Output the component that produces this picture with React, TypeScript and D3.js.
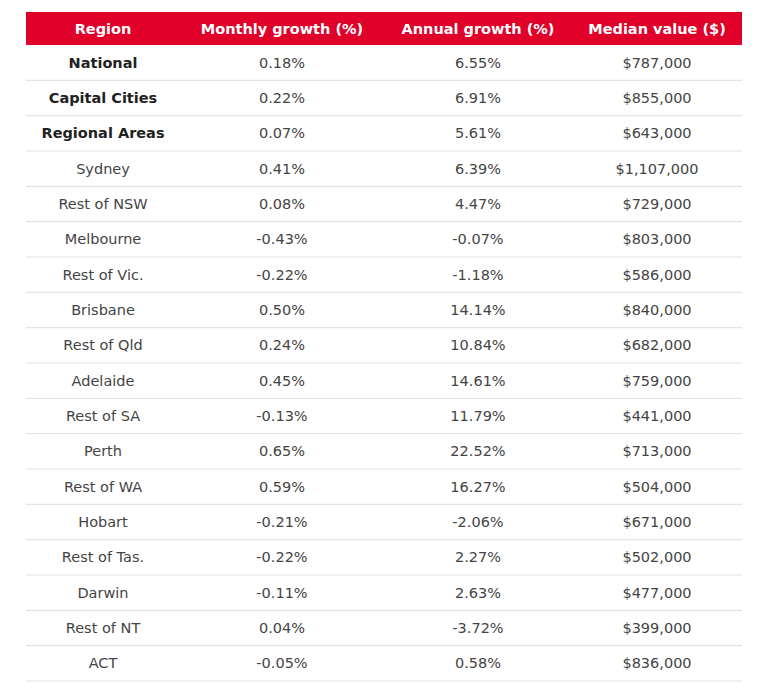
import React from "react";
import * as d3 from "d3";

const columns = ["Region", "Monthly growth (%)", "Annual growth (%)", "Median value ($)"];
const regions = ["National", "Capital Cities", "Regional Areas", "Sydney", "Rest of NSW", "Melbourne", "Rest of Vic.", "Brisbane", "Rest of Qld", "Adelaide", "Rest of SA", "Perth", "Rest of WA", "Hobart", "Rest of Tas.", "Darwin", "Rest of NT", "ACT"];
const monthly = [0.18, 0.22, 0.07, 0.41, 0.08, -0.43, -0.22, 0.5, 0.24, 0.45, -0.13, 0.65, 0.59, -0.21, -0.22, -0.11, 0.04, -0.05];
const annual = [6.55, 6.91, 5.61, 6.39, 4.47, -0.07, -1.18, 14.14, 10.84, 14.61, 11.79, 22.52, 16.27, -2.06, 2.27, 2.63, -3.72, 0.58];
const median = [787000, 855000, 643000, 1107000, 729000, 803000, 586000, 840000, 682000, 759000, 441000, 713000, 504000, 671000, 502000, 477000, 399000, 836000];
const boldRows = ["National", "Capital Cities", "Regional Areas"];

const W = 759, H = 692;
const left = 26, right = 742, headTop = 12, headBottom = 45, tableBottom = 681;
const colEdges = [left, 180, 384, 572, right];
const FONT = "'DejaVu Sans', sans-serif";

export default function App() {
  const y = d3.scaleBand<number>().domain(d3.range(regions.length)).range([headBottom, tableBottom]);
  const pct = (v: number) => v.toFixed(2) + "%";
  const money = (v: number) => "$" + d3.format(",")(v);
  const colCenter = (i: number) => (colEdges[i] + colEdges[i + 1]) / 2;
  return (
    <svg width={W} height={H} style={{ position: "absolute", left: 0, top: 0, background: "#fff" }}>
      <rect x={left} y={headTop} width={right - left} height={headBottom - headTop} fill="#E0002A" />
      {columns.map((c, i) => (
        <text key={c} x={colCenter(i)} y={(headTop + headBottom) / 2} dy="0.35em" textAnchor="middle"
          fill="#fff" fontFamily={FONT} fontWeight="bold" fontSize={14.5}>{c}</text>
      ))}
      {regions.map((r, k) => {
        const yc = y(k)! + y.bandwidth() / 2;
        const vals = [r, pct(monthly[k]), pct(annual[k]), money(median[k])];
        const bold = boldRows.includes(r);
        return (
          <g key={r}>
            <line x1={left} x2={right} y1={y(k)! + y.bandwidth()} y2={y(k)! + y.bandwidth()} stroke="#e2e2e2" strokeWidth={1.2} />
            {vals.map((v, i) => (
              <text key={i} x={colCenter(i)} y={yc} dy="0.35em" textAnchor="middle" fontFamily={FONT}
                fontSize={14.5} fontWeight={i === 0 && bold ? "bold" : "normal"}
                fill={i === 0 && bold ? "#222" : "#444"}>{v}</text>
            ))}
          </g>
        );
      })}
    </svg>
  );
}
